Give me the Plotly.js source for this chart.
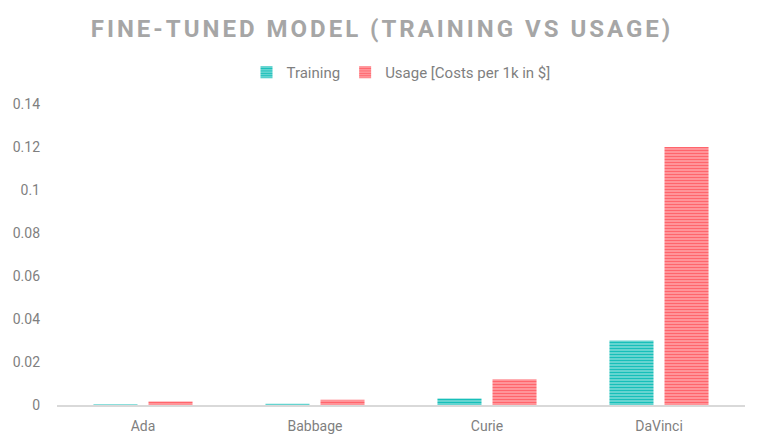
<!DOCTYPE html>
<html>
<head>
<meta charset="utf-8">
<script src="https://cdn.plot.ly/plotly-3.0.1.min.js"></script>
<style>
  html, body { margin: 0; padding: 0; background: #fff; }
  #chart { width: 764px; height: 443px; }
  #chart .gtitle { letter-spacing: 3px; }
</style>
</head>
<body>
<div id="chart"></div>
<script>
  // chart data
  const models = ['Ada', 'Babbage', 'Curie', 'DaVinci'];
  const trainingCost = [0.0004, 0.0006, 0.003, 0.03];
  const usageCost = [0.0016, 0.0024, 0.012, 0.12];

  function stripedBar(name, values, fg, bg) {
    return {
      type: 'bar',
      name: name,
      x: models,
      y: values,
      marker: {
        color: bg,
        line: { width: 0 },
        pattern: { shape: '-', fgcolor: fg, bgcolor: bg, size: 3, solidity: 0.55 },
      },
      hoverinfo: 'x+y',
    };
  }

  const traces = [
    stripedBar('Training', trainingCost, '#17BFB9', '#8ADFDB'),
    stripedBar('Usage [Costs per 1k in $]', usageCost, '#FF656C', '#FFABAE'),
  ];

  const layout = {
    width: 764,
    height: 443,
    paper_bgcolor: '#fff',
    plot_bgcolor: '#fff',
    font: { family: 'Roboto, sans-serif', color: '#7F7F7F', size: 14 },
    title: {
      text: '<b>FINE-TUNED MODEL (TRAINING VS USAGE)</b>',
      font: { size: 24, color: '#A6A6A6', family: 'Roboto, sans-serif' },
      x: 0.5, xanchor: 'center',
      y: 0.935, yanchor: 'middle',
    },
    showlegend: true,
    legend: {
      orientation: 'h',
      x: 0.5, xanchor: 'center',
      y: 1.105, yanchor: 'middle',
      font: { size: 15, color: '#7F7F7F' },
      traceorder: 'normal',
    },
    margin: { l: 57, r: 19, t: 104, b: 38 },
    barmode: 'group',
    bargap: 0.36,
    bargroupgap: 0.2,
    xaxis: {
      showgrid: false,
      showline: true,
      linecolor: '#D9D9D9',
      linewidth: 1.5,
      ticks: '',
      ticklabelstandoff: 8,
      tickfont: { size: 14, color: '#7F7F7F' },
      automargin: false,
    },
    yaxis: {
      range: [0, 0.14],
      dtick: 0.02,
      showgrid: false,
      zeroline: false,
      showline: false,
      ticks: '',
      ticklabelstandoff: 16,
      tickfont: { size: 14, color: '#7F7F7F' },
      automargin: false,
    },
  };

  Plotly.newPlot('chart', traces, layout, { displayModeBar: false, staticPlot: true });
</script>
</body>
</html>
